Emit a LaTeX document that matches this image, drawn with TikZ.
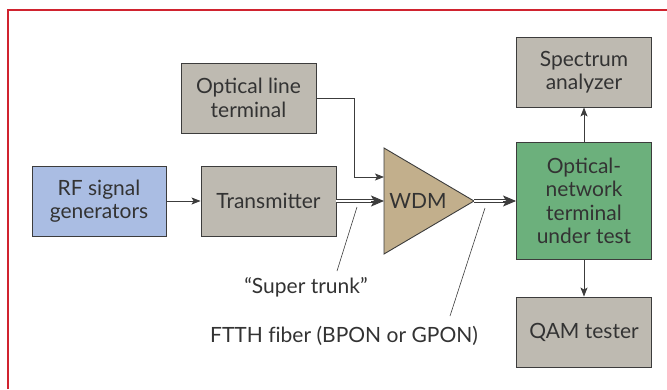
\documentclass[tikz,border=0pt]{standalone}
\usepackage{fontspec}
\setmainfont{Lato}
\usetikzlibrary{arrows.meta}
\definecolor{framered}{HTML}{D0232F}
\definecolor{linegray}{HTML}{3C3C3C}
\definecolor{txtgray}{HTML}{333333}
\definecolor{boxgray}{HTML}{BEBAB1}
\definecolor{rfblue}{HTML}{AABDE3}
\definecolor{wdmtan}{HTML}{C2AF8C}
\definecolor{ontgreen}{HTML}{6CB07C}
\tikzset{
  blk/.style={draw=linegray, line width=0.9pt, fill=boxgray, minimum width=135pt, minimum height=70pt,
    inner sep=0pt, align=center, text=txtgray, font=\fontsize{21}{23.5}\selectfont},
  conn/.style={draw=linegray, line width=0.8pt, -{Stealth[length=9pt,width=7pt,inset=2pt]}},
  dbl/.style={draw=linegray, double=white, double distance=2pt, line width=0.9pt},
  bigtip/.style={draw=linegray, line width=0.9pt, -{Stealth[length=13pt,width=11pt,inset=3pt]}},
  leader/.style={draw=linegray, line width=0.6pt},
  lbl/.style={text=txtgray, font=\fontsize{21}{23.5}\selectfont, inner sep=0pt}
}
\begin{document}
\begin{tikzpicture}[x=1pt,y=-1pt]
\useasboundingbox (0,0) rectangle (667,389);
% frame
\draw[framered, line width=1.6pt] (8,389) -- (8,10) -- (667,10);
% boxes
\node[blk] (olt) at (248.5,98) {Optical line\\terminal};
\node[blk] (sa) at (584,72) {Spectrum\\analyzer};
\node[blk, fill=rfblue, minimum width=134pt] (rf) at (99,201) {RF signal\\generators};
\node[blk] (tx) at (268.5,201) {Transmitter};
\node[blk, fill=ontgreen, minimum height=117pt] (ont) at (584,201) {Optical-\\network\\terminal\\under test};
\node[blk] (qam) at (584,332) {QAM tester};
% WDM triangle
\coordinate (wdmtop) at (384,148);
\coordinate (wdmbot) at (384,254);
\coordinate (wdmtip) at (474,201);
\coordinate (wdmin1) at (384,177);
\coordinate (wdmin2) at (384,201);
\draw[draw=linegray, line width=0.9pt, fill=wdmtan, line join=miter] (wdmtop) -- (wdmtip) -- (wdmbot) -- cycle;
\node[lbl] (wdm) at (418,201) {WDM};
% connectors
\draw[conn] (rf.east) -- (tx.west);
\draw[conn] (olt.east) -- (354,98) -- (354,177) -- (wdmin1);
\draw[dbl] (tx.east) -- ([xshift=-10pt]wdmin2);
\draw[bigtip] ([xshift=-13pt]wdmin2) -- (wdmin2);
\draw[dbl] (wdmtip) -- ([xshift=-10pt]ont.west);
\draw[bigtip] ([xshift=-13pt]ont.west) -- (ont.west);
\draw[conn] (ont.north) -- (sa.south);
\draw[conn] (ont.south) -- (qam.north);
% labels
\node[lbl] (st) at (306,287) {“Super trunk”};
\node[lbl] (ftth) at (344,336) {FTTH f\kern0pt iber (BPON or GPON)};
\coordinate (l1a) at (357,207);
\coordinate (l1b) at (337,271);
\coordinate (l2a) at (485,208);
\coordinate (l2b) at (450,316);
\draw[leader] (l1a) -- (l1b);
\draw[leader] (l2a) -- (l2b);
\end{tikzpicture}
\end{document}
